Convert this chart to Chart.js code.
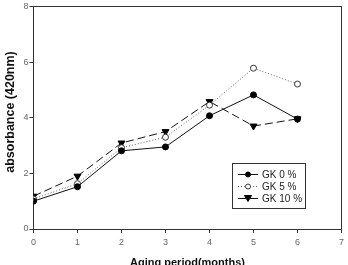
<!DOCTYPE html>
<html>
<head>
<meta charset="utf-8">
<script src="https://cdn.jsdelivr.net/npm/chart.js@4"></script>
<style>
  html, body { margin: 0; padding: 0; background: #fff; }
  #wrap { width: 348px; height: 265px; }
</style>
</head>
<body>
<div id="wrap"><canvas id="absorb" width="348" height="265"></canvas></div>
<script>
var months = [0, 1, 2, 3, 4, 5, 6];
var gk0 = [1.0, 1.52, 2.81, 2.95, 4.07, 4.82, 3.95];
var gk5 = [1.08, 1.63, 2.92, 3.3, 4.45, 5.78, 5.21];
var gk10 = [1.18, 1.9, 3.09, 3.5, 4.58, 3.7, 3.96];
var seriesNames = ["GK 0 %", "GK 5 %", "GK 10 %"];
var xTicks = [0, 1, 2, 3, 4, 5, 6, 7];
var yTicks = [0, 2, 4, 6, 8];

function toPoints(vals) {
    return months.map(function (m, i) { return { x: m, y: vals[i] }; });
}

// legend box drawn inside plot + axis titles
var extras = {
    id: 'extras',
    afterDraw: function (chart) {
        var c = chart.ctx;
        var area = chart.chartArea;
        c.save();
        c.fillStyle = '#111';
        c.font = 'bold 11px Arial, "Liberation Sans"';
        c.textAlign = 'center';
        c.textBaseline = 'middle';
        c.fillText('Aging period(months)', (area.left + area.right) / 2, 263);
        c.font = 'bold 12.5px Arial, "Liberation Sans"';
        c.translate(11, 112);
        c.rotate(-Math.PI / 2);
        c.fillText('absorbance (420nm)', 0, 0);
        c.restore();

        c.save();
        var bx = 232, by = 163, bw = 73, bh = 45;
        c.fillStyle = '#fff';
        c.fillRect(bx, by, bw, bh);
        c.strokeStyle = '#333';
        c.lineWidth = 1;
        c.strokeRect(bx + 0.5, by + 0.5, bw, bh);
        var rows = [174, 186, 198];
        chart.data.datasets.forEach(function (ds, i) {
            var y = rows[i];
            c.strokeStyle = ds.borderColor;
            c.lineWidth = 1;
            c.setLineDash(ds.borderDash || []);
            c.beginPath();
            c.moveTo(238, y + 0.5);
            c.lineTo(258, y + 0.5);
            c.stroke();
            c.setLineDash([]);
            var px = 248;
            c.fillStyle = ds.pointBackgroundColor;
            c.strokeStyle = ds.pointBorderColor;
            c.beginPath();
            if (ds.pointStyle === 'triangle') {
                c.moveTo(px - 3.5, y - 2.5);
                c.lineTo(px + 3.5, y - 2.5);
                c.lineTo(px, y + 3.5);
                c.closePath();
            } else {
                c.arc(px, y + 0.5, 2.5, 0, Math.PI * 2);
            }
            c.fill();
            c.stroke();
            c.fillStyle = '#222';
            c.font = '10px Arial, "Liberation Sans"';
            c.textAlign = 'left';
            c.textBaseline = 'middle';
            c.fillText(ds.label, 262, y + 1);
        });
        c.restore();
    }
};

var ctx = document.getElementById('absorb');
var chart = new Chart(ctx, {
    type: 'line',
    data: {
        datasets: [
            {
                label: seriesNames[0],
                data: toPoints(gk0),
                borderColor: '#111',
                borderWidth: 1,
                pointStyle: 'circle',
                pointRadius: 3,
                pointBackgroundColor: '#000',
                pointBorderColor: '#000',
                pointBorderWidth: 1
            },
            {
                label: seriesNames[1],
                data: toPoints(gk5),
                borderColor: '#666',
                borderWidth: 1,
                borderDash: [1, 2],
                pointStyle: 'circle',
                pointRadius: 3,
                pointBackgroundColor: '#fff',
                pointBorderColor: '#333',
                pointBorderWidth: 1
            },
            {
                label: seriesNames[2],
                data: toPoints(gk10),
                borderColor: '#111',
                borderWidth: 1,
                borderDash: [8, 4],
                pointStyle: 'triangle',
                rotation: 180,
                pointRadius: 4,
                pointBackgroundColor: '#000',
                pointBorderColor: '#000',
                pointBorderWidth: 1
            }
        ]
    },
    options: {
        responsive: false,
        animation: false,
        layout: { padding: { top: 5, right: 3.5, left: 0, bottom: 0 } },
        plugins: {
            legend: { display: false },
            tooltip: { enabled: false }
        },
        scales: {
            x: {
                type: 'linear',
                min: 0,
                max: 7,
                afterBuildTicks: function (s) { s.ticks = xTicks.map(function (v) { return { value: v }; }); },
                afterFit: function (s) { s.height = 36; },
                grid: {
                    display: true,
                    drawOnChartArea: false,
                    drawTicks: true,
                    tickLength: 4,
                    color: '#333'
                },
                border: { color: '#333', width: 1 },
                ticks: { color: '#666', font: { size: 9, family: 'Arial' }, padding: 4, maxRotation: 0 }
            },
            y: {
                min: 0,
                max: 8,
                afterBuildTicks: function (s) { s.ticks = yTicks.map(function (v) { return { value: v }; }); },
                afterFit: function (s) { s.width = 33.5; },
                grid: {
                    display: true,
                    drawOnChartArea: false,
                    drawTicks: true,
                    tickLength: 4,
                    color: '#333'
                },
                border: { color: '#333', width: 1 },
                ticks: { color: '#666', font: { size: 9, family: 'Arial' }, padding: 1 }
            },
            x2: {
                type: 'linear', position: 'top', min: 0, max: 7,
                grid: { display: false }, ticks: { display: false },
                border: { color: '#333', width: 1 },
                afterFit: function (s) { s.height = 0; }
            },
            y2: {
                type: 'linear', position: 'right', min: 0, max: 8,
                grid: { display: false }, ticks: { display: false },
                border: { color: '#333', width: 1 },
                afterFit: function (s) { s.width = 0; }
            }
        }
    },
    plugins: [extras]
});
</script>
</body>
</html>
